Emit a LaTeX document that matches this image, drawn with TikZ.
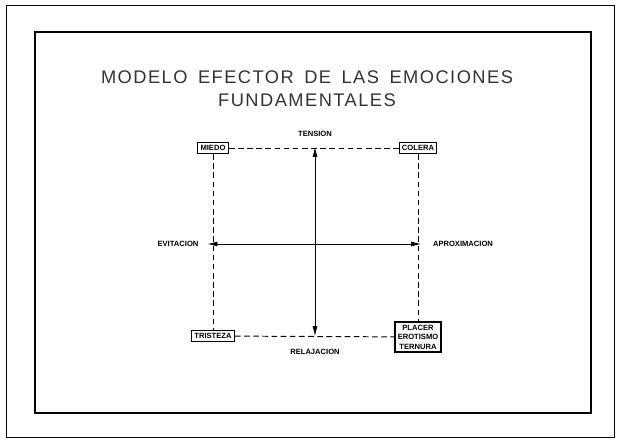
\documentclass[tikz,border=0pt]{standalone}
\usepackage{fontspec}
\setmainfont{Liberation Sans}
\newfontfamily\titlefont[LetterSpace=8,WordSpace=1.6]{Liberation Sans}
\usetikzlibrary{arrows.meta,positioning}
\tikzset{
  emobox/.style={draw,line width=0.9pt,font=\fontsize{5.4}{6.8}\selectfont\bfseries,inner sep=2pt,align=center},
  axislabel/.style={font=\fontsize{5.4}{6.5}\selectfont\bfseries},
  titletext/.style={font=\titlefont\fontsize{13}{16.3}\selectfont,align=center,text=black!80},
  boundary/.style={line width=0.7pt,dash pattern=on 4pt off 2.5pt},
  axis/.style={line width=0.5pt,{Latex[length=7pt,width=3.5pt]}-{Latex[length=7pt,width=3.5pt]}}
}

\begin{document}
\begin{tikzpicture}[x=0.025cm,y=-0.025cm]
  \useasboundingbox (0,0) rectangle (620,445);

  % Frames
  \draw[line width=0.6pt] (6,5) rectangle (614,437);
  \draw[line width=1pt] (35,32) rectangle (591,413);

  % Title
  \node[titletext] (title) at (307,89) {MODELO EFECTOR DE LAS EMOCIONES\\FUNDAMENTALES};

  % Emotions
  \node[emobox] (miedo) at (213,148) {MIEDO};
  \node[emobox] (colera) at (418,148) {COLERA};
  \node[emobox] (tristeza) at (213,336) {TRISTEZA};
  \node[emobox] (placer) at (418,337) {PLACER\\EROTISMO\\TERNURA};

  % Dashed square
  \draw[boundary] (miedo) -- (colera);
  \draw[boundary] (miedo) -- (tristeza);
  \draw[boundary] (colera) -- (placer);
  \draw[boundary] (tristeza) -- (placer);

  % Axis labels
  \node[axislabel] (tension) at (315,134) {TENSION};
  \node[axislabel] (relajacion) at (315,352) {RELAJACION};
  \node[axislabel] (evitacion) at (178,244) {EVITACION};
  \node[axislabel] (aproximacion) at (463,244) {APROXIMACION};

  % Axes
  \coordinate (top) at (315,147);
  \coordinate (bottom) at (315,336);
  \draw[axis] (top) -- (bottom);
  \draw[axis,shorten <=3pt,shorten >=5pt] (evitacion) -- (aproximacion);
\end{tikzpicture}
\end{document}
